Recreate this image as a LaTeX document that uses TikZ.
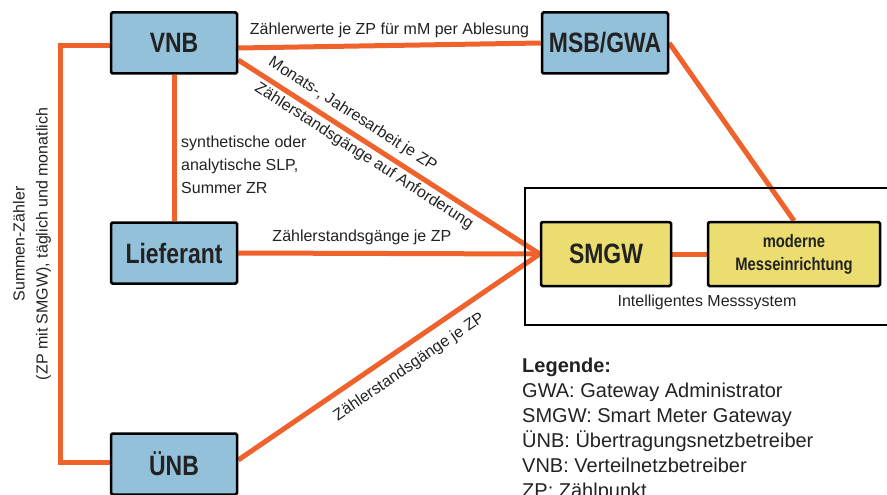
\documentclass[tikz,border=0pt]{standalone}
\usepackage{fontspec}
\setmainfont{Liberation Sans}
\newfontfamily\boxfont{Liberation Sans}[FakeStretch=0.82]
\usetikzlibrary{calc,backgrounds}

\definecolor{flow}{RGB}{240,98,44}
\definecolor{roleblue}{RGB}{148,193,218}
\definecolor{meteryellow}{RGB}{236,221,112}
\definecolor{ink}{RGB}{34,34,34}

\tikzset{
  role/.style={draw=black, line width=2.5pt, fill=roleblue, rounded corners=1.5pt,
    minimum width=126pt, minimum height=61pt, inner sep=0pt, text=ink,
    font=\boxfont\bfseries\fontsize{28}{30}\selectfont},
  meter/.style={draw=black, line width=2.5pt, fill=meteryellow, rounded corners=1.5pt,
    minimum height=64pt, inner sep=0pt, text=ink, align=center,
    font=\boxfont\bfseries\fontsize{28}{30}\selectfont},
  flowline/.style={draw=flow, line width=5pt},
  lbl/.style={font=\fontsize{16}{23}\selectfont, text=ink, inner sep=2pt},
}

\begin{document}
\begin{tikzpicture}[x=1pt, y=-1pt]
\useasboundingbox (0,0) rectangle (887,495);

% market roles
\node[role] (VNB)  at (174,43)  {VNB};
\node[role] (MSB)  at (605,43)  {MSB/GWA};
\node[role] (LIEF) at (174,253) {Lieferant};
\node[role] (UENB) at (174,464) {ÜNB};

% intelligent metering system
\node[draw=black, line width=2pt, minimum width=380pt, minimum height=137pt,
      anchor=north west, inner sep=0pt] (IMS) at (524,187) {};
\node[meter, minimum width=130pt] (SMGW) at (606,254) {SMGW};
\node[meter, minimum width=172pt, font=\boxfont\bfseries\fontsize{18}{23}\selectfont]
      (MME) at (794,254) {moderne\\Messeinrichtung};
\node[lbl] (IMSlabel) at (707,302) {Intelligentes Messsystem};

% data flows
\begin{scope}[on background layer]
  \draw[flowline] ($(VNB.east)+(0,5)$) -- (MSB.west)
    node[lbl, midway, above=3pt] {Zählerwerte je ZP für mM per Ablesung};
  \draw[flowline] ($(VNB.east)+(0,17)$) -- (SMGW.west)
    node[lbl, pos=0.35, sloped, above=4pt] {Monats-, Jahresarbeit je ZP}
    node[lbl, pos=0.44, sloped, below=1pt] {Zählerstandsgänge auf Anforderung};
  \draw[flowline] (VNB.south) -- (LIEF.north);
  \draw[flowline] (LIEF.east) -- (SMGW.west)
    node[lbl, pos=0.41, above=4pt] {Zählerstandsgänge je ZP};
  \draw[flowline] ($(UENB.east)+(0,-4)$) -- (SMGW.west)
    node[lbl, pos=0.53, sloped, below=8pt] {Zählerstandsgänge je ZP};
  \draw[flowline] (MSB.east) -- (MME.north);
  \draw[flowline] (SMGW.east) -- (MME.west);
  \draw[flowline] ($(VNB.west)+(0,3)$) -- ++(-49,0) |- ($(UENB.west)+(0,-2)$);
\end{scope}

\node[lbl, anchor=north west, align=left] (SLP) at (179,134)
  {synthetische oder\\analytische SLP,\\Summer ZR};
\node[lbl, rotate=90, align=center] (SUM) at (32,244)
  {Summen-Zähler\\(ZP mit SMGW), täglich und monatlich};

% legend
\node[anchor=north west, align=left, inner sep=0pt, text=ink,
      font=\fontsize{20}{25}\selectfont] (LEG) at (522,358)
  {\textbf{Legende:}\\
   GWA: Gateway Administrator\\
   SMGW: Smart Meter Gateway\\
   ÜNB: Übertragungsnetzbetreiber\\
   VNB: Verteilnetzbetreiber\\
   ZP: Zählpunkt};
\end{tikzpicture}
\end{document}
